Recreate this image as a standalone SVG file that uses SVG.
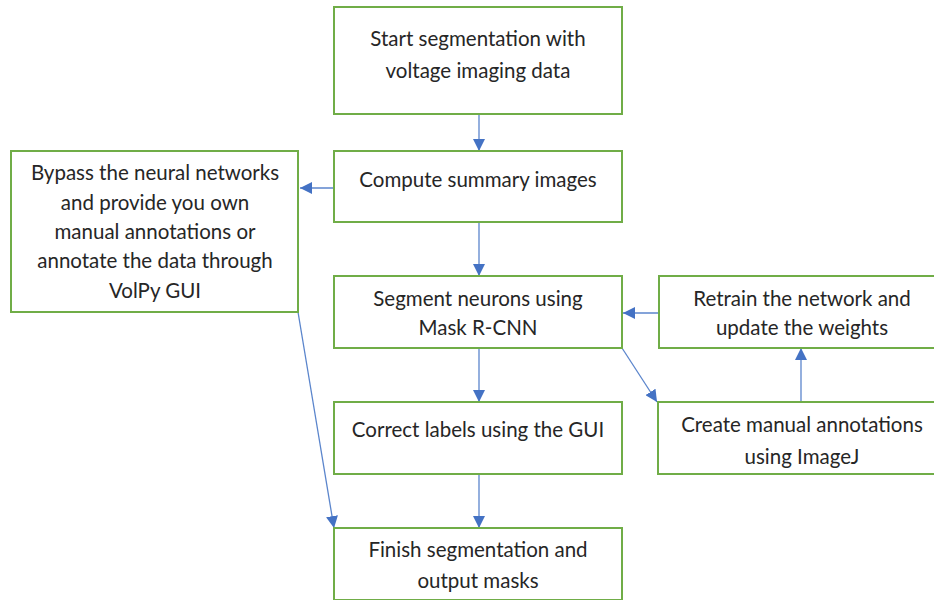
<svg xmlns="http://www.w3.org/2000/svg" width="934" height="600" viewBox="0 0 934 600">
<defs>
<style>
.box{fill:#fff;stroke:#70AD47;stroke-width:2}
.t{font-family:Lato,"Open Sans","Liberation Sans",sans-serif;font-size:20.5px;fill:#262626;text-anchor:middle}
.c{stroke:#5B85CC;stroke-width:1.3;fill:none;marker-end:url(#ah)}
</style>
<marker id="ah" viewBox="0 0 10 10" refX="10" refY="5" markerWidth="12" markerHeight="12" markerUnits="userSpaceOnUse" orient="auto">
<path d="M0,0 L10,5 L0,10 z" fill="#4472C4"/>
</marker>
</defs>
<rect width="934" height="600" fill="#fff"/>
<g id="connectors">
<line class="c" x1="479" y1="115" x2="479" y2="151"/>
<line class="c" x1="334" y1="188" x2="300" y2="188"/>
<line class="c" x1="479" y1="222" x2="479" y2="276"/>
<line class="c" x1="659" y1="313" x2="623" y2="313"/>
<line class="c" x1="622" y1="348" x2="657" y2="402"/>
<line class="c" x1="801" y1="402" x2="801" y2="348"/>
<line class="c" x1="479" y1="348" x2="479" y2="402"/>
<line class="c" x1="479" y1="474" x2="479" y2="528"/>
<line class="c" x1="298" y1="312" x2="334" y2="528"/>
</g>
<g id="start">
<rect class="box" x="334" y="7" width="288" height="107"/>
<text class="t" x="478" y="46">Start segmentation with</text>
<text class="t" x="478" y="78">voltage imaging data</text>
</g>
<g id="compute">
<rect class="box" x="334" y="151" width="288" height="71"/>
<text class="t" x="478" y="187">Compute summary images</text>
</g>
<g id="bypass">
<rect class="box" x="11" y="151" width="287" height="161"/>
<text class="t" x="155" y="180">Bypass the neural networks</text>
<text class="t" x="155" y="210">and provide you own</text>
<text class="t" x="155" y="239">manual annotations or</text>
<text class="t" x="155" y="268">annotate the data through</text>
<text class="t" x="155" y="298">VolPy GUI</text>
</g>
<g id="segment">
<rect class="box" x="334" y="276" width="288" height="72"/>
<text class="t" x="478" y="306">Segment neurons using</text>
<text class="t" x="478" y="335">Mask R-CNN</text>
</g>
<g id="retrain">
<rect class="box" x="659" y="276" width="285" height="72"/>
<text class="t" x="802" y="306">Retrain the network and</text>
<text class="t" x="802" y="335">update the weights</text>
</g>
<g id="correct">
<rect class="box" x="334" y="402" width="288" height="72"/>
<text class="t" x="478" y="437">Correct labels using the GUI</text>
</g>
<g id="create">
<rect class="box" x="658" y="402" width="286" height="72"/>
<text class="t" x="802" y="432">Create manual annotations</text>
<text class="t" x="802" y="464">using ImageJ</text>
</g>
<g id="finish">
<rect class="box" x="334" y="528" width="288" height="72"/>
<text class="t" x="478" y="557">Finish segmentation and</text>
<text class="t" x="478" y="588">output masks</text>
</g>
</svg>
